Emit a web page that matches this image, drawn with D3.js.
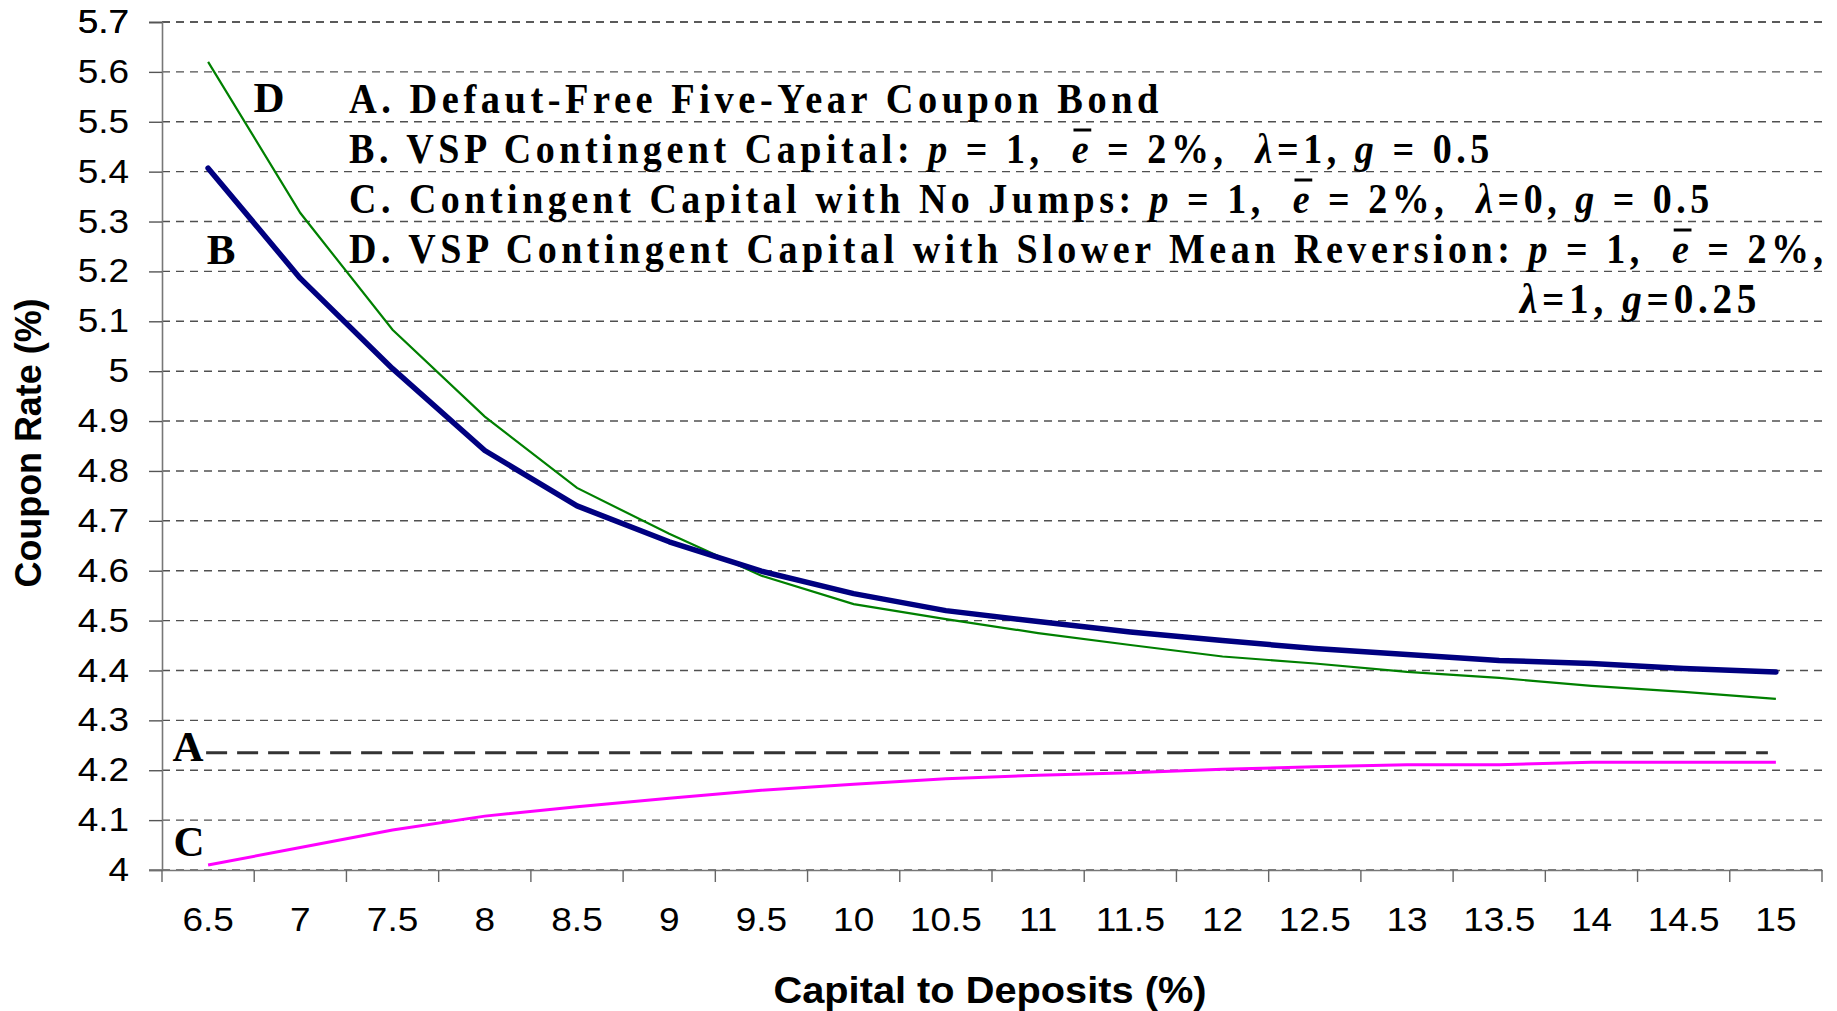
<!DOCTYPE html>
<meta charset="utf-8">
<style>
  body { margin: 0; background: #fff; }
  svg { display: block; }
</style>
<svg width="1837" height="1011"></svg>
<script src="https://cdn.jsdelivr.net/npm/d3@7"></script>
<script>

var svg = d3.select("svg"),
    width = 1837,
    height = 1011;

var margin = { left: 162, right: 15, top: 22, bottom: 141 };

// categories on the x axis
var capital = ["6.5", "7", "7.5", "8", "8.5", "9", "9.5", "10", "10.5", "11",
               "11.5", "12", "12.5", "13", "13.5", "14", "14.5", "15"];

// coupon rates (%)
var vspB = [5.407, 5.186, 5.005, 4.841, 4.730, 4.658, 4.599, 4.554, 4.520, 4.498,
            4.477, 4.460, 4.444, 4.432, 4.420, 4.414, 4.404, 4.397];
var noJumpsC = [4.010, 4.045, 4.080, 4.108, 4.127, 4.144, 4.160, 4.172, 4.183, 4.190,
                4.195, 4.202, 4.207, 4.211, 4.211, 4.216, 4.216, 4.216];
var slowerD = [5.620, 5.317, 5.083, 4.909, 4.766, 4.674, 4.590, 4.533, 4.503, 4.475,
               4.451, 4.428, 4.414, 4.397, 4.385, 4.369, 4.357, 4.343];
var defaultFreeA = 4.235;

var yTicks = d3.range(40, 58).map(function(d) { return d / 10; });

// legend rows: [text, italic?, overline?]
var legendRows = [
  { y: 113, x0: 349, x1: 1163, parts: [["A. Defaut-Free Five-Year Coupon Bond"]] },
  { y: 163, x0: 349, x1: 1494, parts: [["B. VSP Contingent Capital: "], ["p", 1], [" = 1,  "], ["e", 1, 1], [" = 2%,  "], ["\u03bb", 1], ["=1, "], ["g", 1], [" = 0.5"]] },
  { y: 213, x0: 349, x1: 1714, parts: [["C. Contingent Capital with No Jumps: "], ["p", 1], [" = 1,  "], ["e", 1, 1], [" = 2%,  "], ["\u03bb", 1], ["=0, "], ["g", 1], [" = 0.5"]] },
  { y: 263, x0: 349, x1: 1828, parts: [["D. VSP Contingent Capital with Slower Mean Reversion: "], ["p", 1], [" = 1,  "], ["e", 1, 1], [" = 2%,"]] },
  { y: 313, x0: 1520, x1: 1761, parts: [["\u03bb", 1], ["=1, "], ["g", 1], ["=0.25"]] }
];

var curveLabels = [
  { t: "D", x: 269, y: 112 },
  { t: "B", x: 221, y: 264 },
  { t: "A", x: 188, y: 761 },
  { t: "C", x: 189, y: 856 }
];

var x = d3.scaleBand()
    .domain(capital)
    .range([margin.left, width - margin.right]);

var y = d3.scaleLinear()
    .domain([4, 5.7])
    .range([870, margin.top]);

var xc = function(d, i) { return x(capital[i]) + x.bandwidth() / 2; };

// gridlines
svg.append("g")
  .selectAll("line")
  .data(yTicks.concat([5.7]))
  .enter().append("line")
    .attr("x1", margin.left)
    .attr("x2", width - margin.right)
    .attr("y1", function(d) { return y(d); })
    .attr("y2", function(d) { return y(d); })
    .attr("stroke", "#505050")
    .attr("stroke-width", 1.4)
    .attr("stroke-dasharray", "8,6");

// y axis
var yAxis = svg.append("g")
    .attr("transform", "translate(" + margin.left + ",0)")
    .call(d3.axisLeft(y).tickValues(yTicks.concat([5.7])).tickSize(13).tickPadding(20)
      .tickFormat(function(d) { return d3.format("")(+d.toFixed(1)); }));
yAxis.select(".domain").attr("stroke", "#777").attr("stroke-width", 1.6);
yAxis.selectAll(".tick line").attr("stroke", "#555").attr("stroke-width", 1.4);
yAxis.selectAll("text")
    .attr("font-family", "Liberation Sans, Arial, sans-serif")
    .attr("font-size", 33)
    .attr("fill", "#000");

// x axis
var xAxis = svg.append("g")
    .attr("transform", "translate(0,870)")
    .call(d3.axisBottom(x).tickSize(0).tickPadding(38));
xAxis.select(".domain").attr("stroke", "#777").attr("stroke-width", 1.6);
xAxis.selectAll("text")
    .attr("font-family", "Liberation Sans, Arial, sans-serif")
    .attr("font-size", 33)
    .attr("fill", "#000");
svg.append("line")
    .attr("x1", 149).attr("x2", margin.left)
    .attr("y1", 870).attr("y2", 870)
    .attr("stroke", "#777").attr("stroke-width", 1.6);
svg.append("g")
  .selectAll("line")
  .data(capital.map(function(c) { return x(c); }).concat([width - margin.right]))
  .enter().append("line")
    .attr("x1", function(d) { return d; })
    .attr("x2", function(d) { return d; })
    .attr("y1", 870).attr("y2", 882)
    .attr("stroke", "#666").attr("stroke-width", 1.4);

// stretch tick labels a bit horizontally, like the original
svg.selectAll(".tick text").each(function() {
  var w = this.getComputedTextLength();
  d3.select(this).attr("textLength", w * 1.12).attr("lengthAdjust", "spacingAndGlyphs");
});

// axis titles
svg.append("text")
    .attr("transform", "translate(41,443) rotate(-90)")
    .attr("text-anchor", "middle")
    .attr("font-family", "Liberation Sans, Arial, sans-serif")
    .attr("font-weight", "bold")
    .attr("font-size", 37)
    .attr("textLength", 289)
    .attr("lengthAdjust", "spacingAndGlyphs")
    .text("Coupon Rate (%)");

svg.append("text")
    .attr("x", 990)
    .attr("y", 1003)
    .attr("text-anchor", "middle")
    .attr("font-family", "Liberation Sans, Arial, sans-serif")
    .attr("font-weight", "bold")
    .attr("font-size", 37)
    .attr("textLength", 433)
    .attr("lengthAdjust", "spacingAndGlyphs")
    .text("Capital to Deposits (%)");

// series
var line = d3.line()
    .x(xc)
    .y(function(d) { return y(d); });

svg.append("line")
    .attr("x1", xc(null, 0) - 2)
    .attr("x2", xc(null, capital.length - 1) - 8)
    .attr("y1", y(defaultFreeA))
    .attr("y2", y(defaultFreeA))
    .attr("stroke", "#333")
    .attr("stroke-width", 3)
    .attr("stroke-dasharray", "21,10");

svg.append("path")
    .datum(noJumpsC)
    .attr("d", line)
    .attr("fill", "none")
    .attr("stroke", "#ff00ff")
    .attr("stroke-width", 3);

svg.append("path")
    .datum(slowerD)
    .attr("d", line)
    .attr("fill", "none")
    .attr("stroke", "#008000")
    .attr("stroke-width", 2.2);

svg.append("path")
    .datum(vspB)
    .attr("d", line)
    .attr("fill", "none")
    .attr("stroke", "#000080")
    .attr("stroke-width", 5.5)
    .attr("stroke-linejoin", "round")
    .attr("stroke-linecap", "round");

// curve letters
svg.append("g")
  .selectAll("text")
  .data(curveLabels)
  .enter().append("text")
    .attr("x", function(d) { return d.x; })
    .attr("y", function(d) { return d.y; })
    .attr("text-anchor", "middle")
    .attr("font-family", "Liberation Serif, Times New Roman, serif")
    .attr("font-weight", "bold")
    .attr("font-size", 43)
    .text(function(d) { return d.t; });

// legend text: laid out at natural size, then squeezed sideways to the original's width
legendRows.forEach(function(row) {
  var g = svg.append("g");
  var t = g.append("text")
      .attr("x", 0)
      .attr("y", 0)
      .attr("font-family", "Liberation Serif, Times New Roman, serif")
      .attr("font-weight", "bold")
      .attr("font-size", 42)
      .attr("letter-spacing", 5)
      .attr("xml:space", "preserve")
      .style("white-space", "pre");
  row.parts.forEach(function(p) {
    var s = t.append("tspan").text(p[0]);
    if (p[1]) s.attr("font-style", "italic");
    if (p[2]) s.attr("class", "bar");
  });
  var w = t.node().getComputedTextLength(),
      sx = (row.x1 - row.x0) / w;
  g.attr("transform", "translate(" + row.x0 + "," + row.y + ") scale(" + sx + ",1)");

  // overline on e
  t.selectAll("tspan.bar").each(function() {
    var n = this, idx = 0, kids = t.node().childNodes;
    for (var k = 0; k < kids.length; k++) { if (kids[k] === n) break; idx += kids[k].textContent.length; }
    var start = t.node().getStartPositionOfChar(idx),
        end = t.node().getEndPositionOfChar(idx);
    g.append("line")
        .attr("x1", start.x + 2).attr("x2", end.x - 2)
        .attr("y1", -33).attr("y2", -33)
        .attr("stroke", "#000").attr("stroke-width", 3);
  });
});

</script>
